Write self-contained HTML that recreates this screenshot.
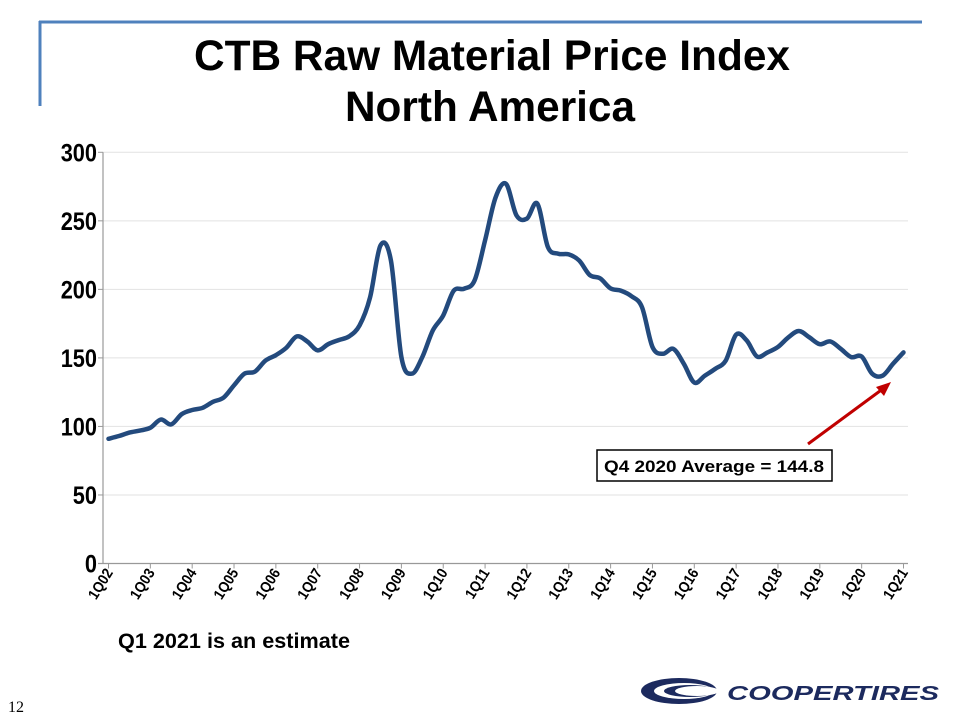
<!DOCTYPE html>
<html><head><meta charset="utf-8"><style>
body{margin:0;background:#fff;}
#wrap{position:relative;width:960px;height:720px;overflow:hidden;font-family:"Liberation Sans",Arial,sans-serif;}
</style></head><body>
<div id="wrap">
<svg width="960" height="720" style="position:absolute;left:0;top:0">
  <line x1="39" y1="22" x2="922" y2="22" stroke="#4f81bd" stroke-width="3"/>
  <line x1="40" y1="21" x2="40" y2="106" stroke="#4f81bd" stroke-width="3"/>
  <text x="492" y="70" text-anchor="middle" font-size="43" font-weight="bold" textLength="596" lengthAdjust="spacingAndGlyphs">CTB Raw Material Price Index</text>
  <text x="490" y="121" text-anchor="middle" font-size="43" font-weight="bold" textLength="290" lengthAdjust="spacingAndGlyphs">North America</text>
  <g id="grid"></g>
  <g id="axes"></g>
  <path id="series" fill="none" stroke="#234a7d" stroke-width="4.5" stroke-linejoin="round" stroke-linecap="round"/>
  <line x1="808" y1="444" x2="884" y2="388" stroke="#c00000" stroke-width="3"/>
  <polygon points="891,382 876,387 884,396" fill="#c00000"/>
  <rect x="597" y="450" width="235" height="31" fill="#fff" stroke="#000" stroke-width="1.5"/>
  <text x="604" y="472" font-size="16.5" font-weight="bold" textLength="220" lengthAdjust="spacingAndGlyphs">Q4 2020 Average = 144.8</text>
  <text x="118" y="648" font-size="21" font-weight="bold" textLength="232" lengthAdjust="spacingAndGlyphs">Q1 2021 is an estimate</text>
  <text x="8" y="712" font-size="16" font-family="Liberation Serif,serif">12</text>
  <g>
    <ellipse cx="679" cy="691" rx="38" ry="13" fill="#1c2a5e"/>
    <ellipse cx="684" cy="691" rx="30" ry="8" fill="#fff"/>
    <ellipse cx="690" cy="691" rx="26" ry="6" fill="#1c2a5e"/>
    <ellipse cx="697" cy="691" rx="22" ry="5" fill="#fff"/>
    <text x="727" y="700" font-size="20" font-weight="bold" font-style="italic" fill="#1c2a5e" textLength="212" lengthAdjust="spacingAndGlyphs">COOPERTIRES</text>
  </g>
</svg>
</div>
<script>
const categories = ["1Q02","1Q03","1Q04","1Q05","1Q06","1Q07","1Q08","1Q09","1Q10","1Q11","1Q12","1Q13","1Q14","1Q15","1Q16","1Q17","1Q18","1Q19","1Q20","1Q21"];
const yTicks = [0,50,100,150,200,250,300];
const values = [91,93,95.5,97,99,105,101.5,109,112,113.6,118,121,130,138.5,140,148,152,157.4,165.7,162,155.5,160,163,165.7,173.7,194,232,221,150.6,138.5,150.6,170,181,199,200.5,206.6,235.8,267,277,254,251.6,262.5,231,226,225.5,221,210.5,208,200.7,199,195,187,158,153,156.6,145.7,132,137,142,148,167,162.8,151,154,158,165,169.6,165,160,162,156.6,150.6,151,138.5,137,145.7,154];

const NS="http://www.w3.org/2000/svg";
const x0=108.5, x1=903.5, yBase=563.5, yTop=152.3;
function xq(i){return x0+(x1-x0)*i/(values.length-1);}
function xc(j){return x0+(x1-x0)*j/(categories.length-1);}
function y(v){return yBase-(yBase-yTop)*v/300;}
function mk(tag,attrs,parent){const e=document.createElementNS(NS,tag);for(const k in attrs)e.setAttribute(k,attrs[k]);parent.appendChild(e);return e;}
const grid=document.getElementById('grid'), axes=document.getElementById('axes');
yTicks.forEach(t=>{
  if(t>0){const g=mk('line',{x1:103,x2:908,y1:y(t),y2:y(t),stroke:'#e2e2e2','stroke-width':1},grid);
  
  }
  const tk=mk('line',{x1:98,x2:103,y1:y(t),y2:y(t),stroke:'#999'},axes);
  
  
  const lb=mk('text',{x:0,y:0,'text-anchor':'end','font-size':25,'font-weight':'bold',transform:`translate(97,${y(t)+9}) scale(0.87,1)`},axes);
  lb.textContent=t;
  
  
});
const ya=mk('line',{x1:103,x2:103,y1:yTop,y2:yBase,stroke:'#999','stroke-width':1.2},axes);


const xa=mk('line',{x1:98,x2:908,y1:yBase,y2:yBase,stroke:'#999','stroke-width':1.2},axes);


categories.forEach((c,j)=>{
  const X=xc(j);
  const tk=mk('line',{x1:X,x2:X,y1:yBase,y2:yBase+5,stroke:'#999'},axes);
  
  
  const lb=mk('text',{x:0,y:0,'text-anchor':'end','font-size':15,'font-weight':'bold',transform:`translate(${X+5},${yBase+9}) rotate(-58) scale(0.9,1)`},axes);
  lb.textContent=c;
  
  
});
const pts=values.map((v,i)=>[xq(i),y(v)]);
let d=`M${pts[0][0]},${pts[0][1]}`;
for(let i=0;i<pts.length-1;i++){
  const p0=pts[Math.max(0,i-1)],p1=pts[i],p2=pts[i+1],p3=pts[Math.min(pts.length-1,i+2)];
  const c1=[p1[0]+(p2[0]-p0[0])/6,p1[1]+(p2[1]-p0[1])/6];
  const c2=[p2[0]-(p3[0]-p1[0])/6,p2[1]-(p3[1]-p1[1])/6];
  d+=` C${c1[0]},${c1[1]} ${c2[0]},${c2[1]} ${p2[0]},${p2[1]}`;
}
document.getElementById('series').setAttribute('d',d);
</script>
</body></html>
